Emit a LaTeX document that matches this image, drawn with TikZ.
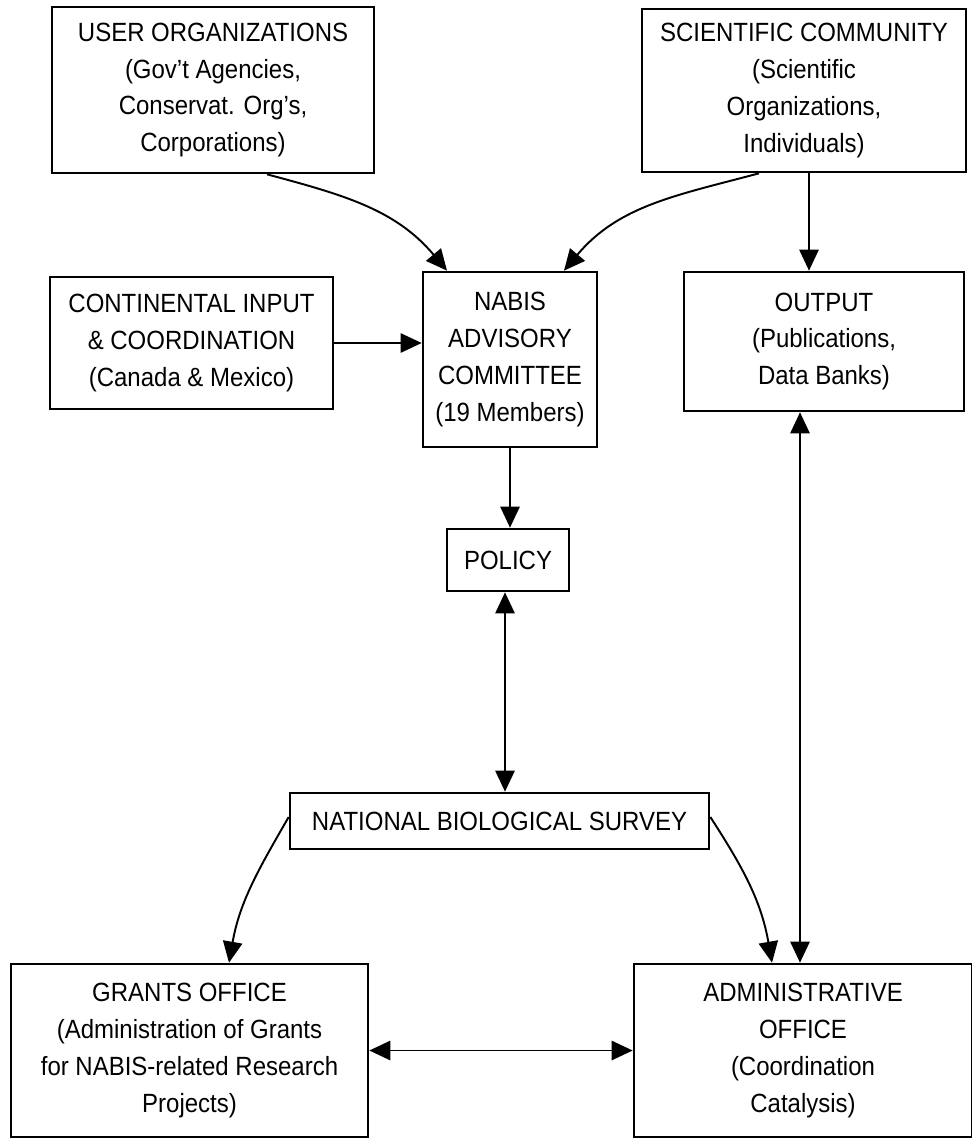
\documentclass[tikz,border=0pt]{standalone}
\usepackage{fontspec}
\setmainfont{Liberation Sans}[FakeStretch=0.91]
\usetikzlibrary{arrows.meta}
\tikzset{
  box/.style={draw, line width=1.5pt, align=center, inner sep=2pt,
    font=\fontsize{15}{21}\selectfont},
  arr/.style={-{Triangle[length=12pt,width=11pt]}, line width=1.1pt},
  dblarr/.style={{Triangle[length=12pt,width=11pt]}-{Triangle[length=12pt,width=11pt]}, line width=1.1pt}
}
\begin{document}
\begin{tikzpicture}
      \useasboundingbox (0,0) rectangle (19.44,-22.78);

      \node [box, minimum width=6.44cm, minimum height=3.32cm] (user) at (4.26,-1.80)
        {USER ORGANIZATIONS\\(Gov't Agencies,\\Conservat. Org's,\\Corporations)};
      \node [box, minimum width=6.48cm, minimum height=3.26cm] (sci) at (16.08,-1.81)
        {SCIENTIFIC COMMUNITY\\(Scientific\\Organizations,\\Individuals)};
      \node [box, minimum width=5.66cm, minimum height=2.64cm] (cont) at (3.83,-6.86)
        {CONTINENTAL INPUT\\\& COORDINATION\\(Canada \& Mexico)};
      \node [box, minimum width=3.48cm, minimum height=3.50cm] (nabis) at (10.20,-7.19)
        {NABIS\\ADVISORY\\COMMITTEE\\(19 Members)};
      \node [box, minimum width=5.60cm, minimum height=2.78cm] (output) at (16.48,-6.83)
        {OUTPUT\\(Publications,\\Data Banks)};
      \node [box, minimum width=2.44cm, minimum height=1.24cm] (policy) at (10.16,-11.20)
        {POLICY};
      \node [box, minimum width=8.38cm, minimum height=1.12cm] (nbs) at (9.99,-16.42)
        {NATIONAL BIOLOGICAL SURVEY};
      \node [box, minimum width=7.14cm, minimum height=3.46cm] (grants) at (3.79,-21.01)
        {GRANTS OFFICE\\(Administration of Grants\\for NABIS-related Research\\Projects)};
      \node [box, minimum width=6.76cm, minimum height=3.46cm] (admin) at (16.06,-21.01)
        {ADMINISTRATIVE\\OFFICE\\(Coordination\\Catalysis)};

      \draw [arr] ([xshift=1.08cm]user.south) to [out=-15,in=130] ([xshift=-1.26cm]nabis.north);
      \draw [arr] ([xshift=-0.90cm]sci.south) to [out=195,in=50] ([xshift=1.08cm]nabis.north);
      \draw [arr] ([xshift=0.10cm]sci.south) -- ([xshift=0.10cm]sci.south |- output.north);
      \draw [arr] (cont.east) -- (cont.east -| nabis.west);
      \draw [arr] (nabis.south) -- (nabis.south |- policy.north);
      \draw [dblarr] ([xshift=-0.06cm]policy.south) -- ([xshift=-0.06cm]policy.south |- nbs.north);
      \draw [arr] ([yshift=0.08cm]nbs.west) to [out=240,in=80] ([xshift=0.79cm]grants.north);
      \draw [arr] ([yshift=0.08cm]nbs.east) to [out=-57,in=100] ([xshift=-0.62cm]admin.north);
      \draw [dblarr] ([xshift=-0.48cm]output.south) -- ([xshift=-0.48cm]output.south |- admin.north);
      \draw [dblarr] (grants.east) -- (admin.west);

    \end{tikzpicture}
\end{document}
